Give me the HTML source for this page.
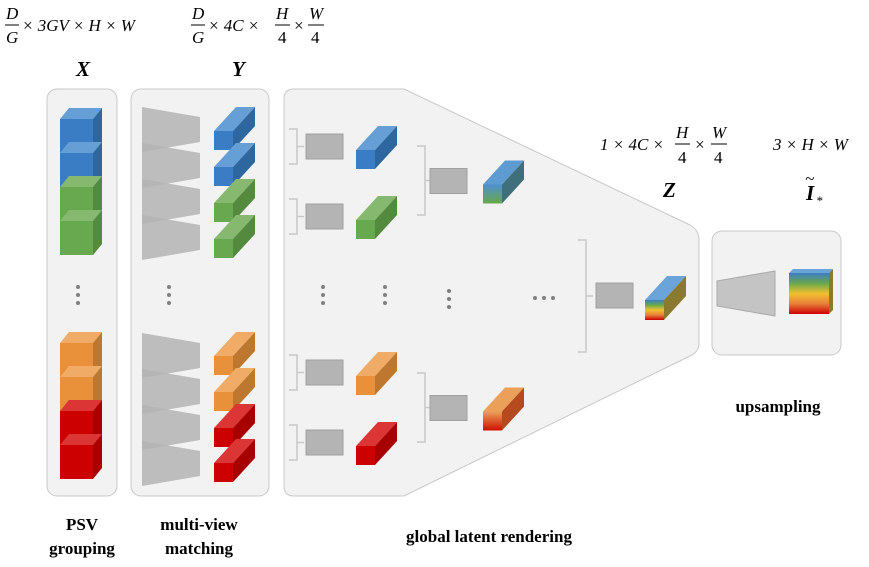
<!DOCTYPE html>
<html><head><meta charset="utf-8"><style>
html,body{margin:0;padding:0;background:#fff}
svg{display:block}
.m{font-family:"Liberation Serif",serif;font-style:italic;font-size:17px;fill:#000}
.b{font-family:"Liberation Serif",serif;font-weight:bold;font-size:17px;fill:#000}
.bi{font-family:"Liberation Serif",serif;font-weight:bold;font-style:italic;font-size:21px;fill:#000}
</style></head><body>
<svg id="s" width="869" height="567" viewBox="0 0 869 567">
<defs>
<linearGradient id="gBG" x1="0" y1="0" x2="0" y2="1"><stop offset="0" stop-color="#4f8fcf"/><stop offset="1" stop-color="#68a84e"/></linearGradient>
<linearGradient id="gOR" x1="0" y1="0" x2="0" y2="1"><stop offset="0" stop-color="#eba05a"/><stop offset="1" stop-color="#cc1000"/></linearGradient>
<linearGradient id="gAll" x1="0" y1="0" x2="0" y2="1"><stop offset="0" stop-color="#3b7dc4"/><stop offset="0.25" stop-color="#68a84e"/><stop offset="0.5" stop-color="#f0c030"/><stop offset="0.75" stop-color="#e8803a"/><stop offset="1" stop-color="#cc0000"/></linearGradient>
</defs>
<g><rect x="47" y="89" width="70" height="407" rx="10" fill="#f2f2f2" stroke="#c8c8c8"/></g>
<g><rect x="131" y="89" width="138" height="407" rx="10" fill="#f2f2f2" stroke="#c8c8c8"/></g>
<path d="M294 89 H404 L690 225 Q699 230 699 240 V343 Q699 352 690 356 L404 496 H294 Q284 496 284 486 V99 Q284 89 294 89 Z" fill="#f2f2f2" stroke="#c8c8c8"/>
<rect x="712" y="231" width="129" height="124" rx="10" fill="#f2f2f2" stroke="#c8c8c8"/>
<g id="g"></g>
<g>
<text class="m" x="6" y="19">D</text><line x1="5" y1="25" x2="19" y2="25" stroke="#000"/><text class="m" x="6" y="43">G</text>
<text class="m" x="22" y="31">× 3GV × H × W</text>
<text class="m" x="192" y="19">D</text><line x1="191" y1="25" x2="205" y2="25" stroke="#000"/><text class="m" x="192" y="43">G</text>
<text class="m" x="208" y="31">× 4C ×</text>
<text class="m" x="276" y="19">H</text><line x1="275" y1="25" x2="290" y2="25" stroke="#000"/><text class="m" x="278" y="43" style="font-style:normal">4</text>
<text class="m" x="293" y="31">×</text>
<text class="m" x="309" y="19">W</text><line x1="308" y1="25" x2="324" y2="25" stroke="#000"/><text class="m" x="311" y="43" style="font-style:normal">4</text>
<text class="bi" x="76" y="76">X</text>
<text class="bi" x="232" y="76">Y</text>
<text class="m" x="600" y="150">1 × 4C ×</text>
<text class="m" x="676" y="138">H</text><line x1="675" y1="144" x2="690" y2="144" stroke="#000"/><text class="m" x="678" y="163" style="font-style:normal">4</text>
<text class="m" x="694" y="150">×</text>
<text class="m" x="712" y="138">W</text><line x1="711" y1="144" x2="727" y2="144" stroke="#000"/><text class="m" x="714" y="163" style="font-style:normal">4</text>
<text class="m" x="773" y="150">3 × H × W</text>
<text class="bi" x="663" y="197">Z</text>
<text class="bi" x="806" y="200">I</text><text class="m" x="805" y="184">~</text><text class="m" x="816" y="205" style="font-size:13px">*</text>
<text class="b" x="82" y="530" text-anchor="middle">PSV</text>
<text class="b" x="82" y="554" text-anchor="middle">grouping</text>
<text class="b" x="199" y="530" text-anchor="middle">multi-view</text>
<text class="b" x="199" y="554" text-anchor="middle">matching</text>
<text class="b" x="489" y="542" text-anchor="middle">global latent rendering</text>
<text class="b" x="778" y="412" text-anchor="middle">upsampling</text>
</g>
<script>
const psvColors=["blue","blue","green","green","orange","orange","red","red"];
const psvY=[119,153,187,221,343,377,411,445];
const matchY=[131,167,203,239,356,392,428,463];
const trapY=[107,143,179,215,333,369,405,441];
const col={blue:["#3b7dc4","#659fd6","#2e67a0"],green:["#68a84e","#87b870","#548a3e"],orange:["#e8913a","#f0ac67","#bd772f"],red:["#cc0000","#dc3535","#a80000"],
bg:["url(#gBG)","#5f9bd3","#3f6f7a"],or:["url(#gOR)","#eba05a","#b54a1e"],all:["url(#gAll)","#6aa4d8","#8a7a30"]};
const g=document.getElementById('g');
const NS='http://www.w3.org/2000/svg';
function el(t,a,name){const e=document.createElementNS(NS,t);for(const k in a)e.setAttribute(k,a[k]);


g.appendChild(e);return e;}
function cube(x,y,w,h,dx,dy,c,name){const C=col[c];
el('polygon',{points:`${x},${y} ${x+dx},${y-dy} ${x+w+dx},${y-dy} ${x+w},${y}`,fill:C[1]},name+'-top');
el('polygon',{points:`${x+w},${y} ${x+w+dx},${y-dy} ${x+w+dx},${y+h-dy} ${x+w},${y+h}`,fill:C[2]},name+'-side');
el('rect',{x:x,y:y,width:w,height:h,fill:C[0]},name+'-front');}
psvColors.forEach((c,i)=>cube(60,psvY[i],33,34,9,11,c,'psv-cube'));
trapY.forEach(y=>el('polygon',{points:`142,${y} 200,${y+10} 200,${y+35} 142,${y+45}`,fill:'#b4b4b4',opacity:0.85},'matching-network'));
psvColors.forEach((c,i)=>cube(214,matchY[i],19,19,22,24,c,'feature-cube'));
function box(x,y,name){el('rect',{x:x,y:y,width:37,height:25,fill:'#b4b4b4',stroke:'#a0a0a0'},name);}
function bracket(x,y1,y2){el('path',{d:`M${x} ${y1} H${x+8} V${y2} H${x} M${x+8} ${(y1+y2)/2} H${x+15}`,fill:'none',stroke:'#c8c8c8','stroke-width':1.5},'merge-bracket');}
const r1=[{b:129,c:'blue'},{b:199,c:'green'},{b:355,c:'orange'},{b:425,c:'red'}];
r1.forEach(r=>{bracket(289,r.b,r.b+35);box(306,r.b+5,'render-block');cube(356,r.b+21,19,19,22,24,r.c,'latent-cube');});
[[146,215,'bg'],[373,442,'or']].forEach(a=>{bracket(417,a[0],a[1]);box(430,(a[0]+a[1])/2-12,'render-block');cube(483,(a[0]+a[1])/2+4,19,19,22,24,a[2],'latent-cube');});
bracket(578,240,352);box(596,283,'render-block');cube(645,300,19,20,22,24,'all','z-cube');
el('polygon',{points:'717,281 775,271 775,316 717,306',fill:'#c4c4c4',stroke:'#aaa'},'upsampling-network');
cube(789,273,40,41,4,4,'all','output-image');
[[78,287],[169,287],[323,287],[385,287],[449,291]].forEach(p=>{for(let k=0;k<3;k++)el('circle',{cx:p[0],cy:p[1]+k*8,r:2,fill:'#808080'},'ellipsis-dot');});
for(let k=0;k<3;k++)el('circle',{cx:535+k*9,cy:298,r:2,fill:'#808080'},'ellipsis-dot');
</script>
</svg>
</body></html>
